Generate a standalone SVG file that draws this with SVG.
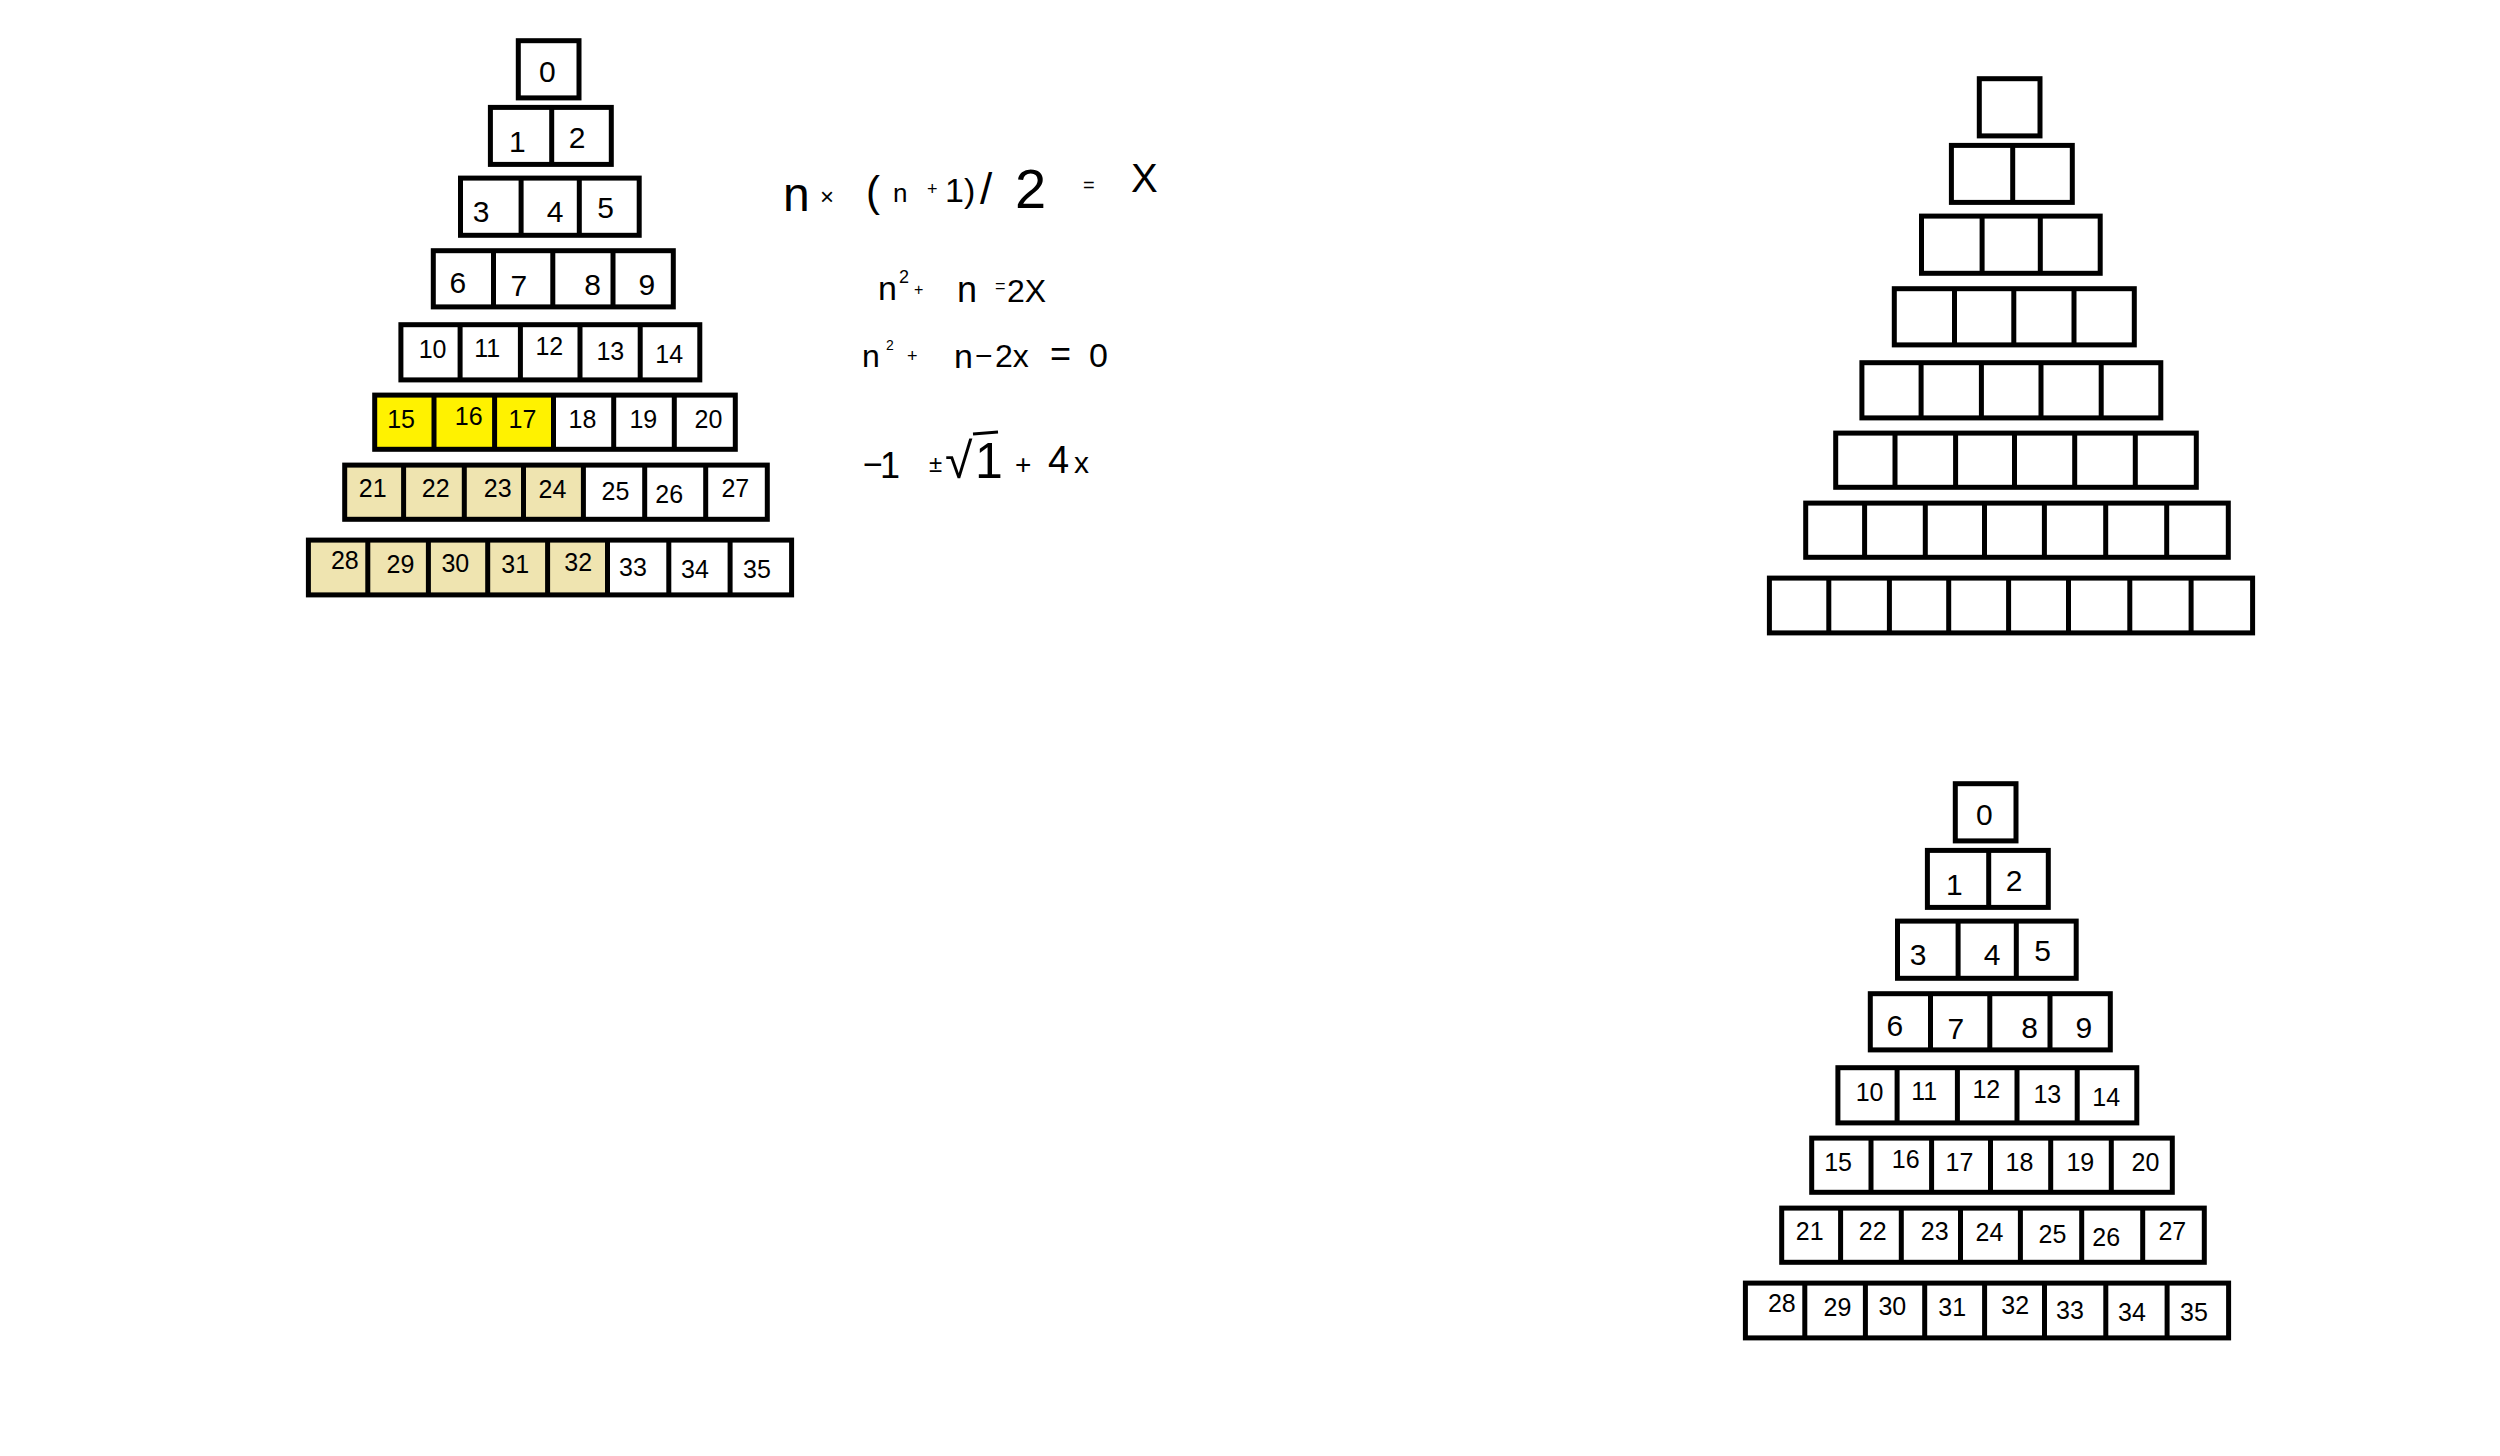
<svg xmlns="http://www.w3.org/2000/svg" xmlns:xlink="http://www.w3.org/1999/xlink" width="2500" height="1456" viewBox="0 0 2500 1456">
<style>
.b{fill:none;stroke:#000;stroke-width:5}
.l{stroke:#000;stroke-width:5}
text{font-family:"Liberation Sans",Arial,sans-serif;fill:#000}
.d1{font-size:30px;text-anchor:middle}
.d2{font-size:25px;text-anchor:middle}
.f{font-size:40px}
</style>
<defs>
<g id="grid">
<rect class="b" x="518.3" y="40.7" width="60.7" height="57.2"/>
<rect class="b" x="490.4" y="107.4" width="120.9" height="57"/>
<path class="l" d="M551.7 107.4V164.4"/>
<rect class="b" x="460.5" y="178.1" width="178.7" height="57.2"/>
<path class="l" d="M521.1 178.1V235.3M579.3 178.1V235.3"/>
<rect class="b" x="433.3" y="250.7" width="240" height="56.2"/>
<path class="l" d="M493.5 250.7V306.9M552.8 250.7V306.9M613 250.7V306.9"/>
<rect class="b" x="400.9" y="324.7" width="298.9" height="55.2"/>
<path class="l" d="M460.1 324.7V379.9M520.4 324.7V379.9M580 324.7V379.9M640.2 324.7V379.9"/>
<rect class="b" x="374.7" y="395.1" width="360.6" height="54.2"/>
<path class="l" d="M434 395.1V449.3M494.6 395.1V449.3M553.5 395.1V449.3M613.7 395.1V449.3M674.3 395.1V449.3"/>
<rect class="b" x="344.7" y="465.1" width="422.6" height="54.2"/>
<path class="l" d="M403.6 465.1V519.3M464.3 465.1V519.3M523.5 465.1V519.3M583.4 465.1V519.3M644.7 465.1V519.3M705.7 465.1V519.3"/>
<rect class="b" x="308.4" y="540.1" width="483.2" height="54.8"/>
<path class="l" d="M367.8 540.1V594.9M428.4 540.1V594.9M487.7 540.1V594.9M547.6 540.1V594.9M607.5 540.1V594.9M668.8 540.1V594.9M730.1 540.1V594.9"/>
</g>
<g id="nums">
<text class="d1" x="547.3" y="82">0</text>
<text class="d1" x="517.3" y="152">1</text>
<text class="d1" x="577.2" y="148">2</text>
<text class="d1" x="481.1" y="222">3</text>
<text class="d1" x="555" y="222">4</text>
<text class="d1" x="605.6" y="218">5</text>
<text class="d1" x="457.9" y="293">6</text>
<text class="d1" x="518.8" y="296">7</text>
<text class="d1" x="592.7" y="295">8</text>
<text class="d1" x="646.9" y="295">9</text>
<text class="d2" x="432.6" y="358">10</text>
<text class="d2" x="487.3" y="357">11</text>
<text class="d2" x="549.3" y="355">12</text>
<text class="d2" x="610.3" y="360">13</text>
<text class="d2" x="669.2" y="363">14</text>
<text class="d2" x="401.1" y="428">15</text>
<text class="d2" x="468.7" y="425">16</text>
<text class="d2" x="522.5" y="428">17</text>
<text class="d2" x="582.4" y="428">18</text>
<text class="d2" x="643.3" y="428">19</text>
<text class="d2" x="708.4" y="428">20</text>
<text class="d2" x="372.7" y="497">21</text>
<text class="d2" x="435.7" y="497">22</text>
<text class="d2" x="497.7" y="497">23</text>
<text class="d2" x="552.4" y="498">24</text>
<text class="d2" x="615.4" y="500">25</text>
<text class="d2" x="669.2" y="503">26</text>
<text class="d2" x="735.3" y="497">27</text>
<text class="d2" x="344.8" y="569">28</text>
<text class="d2" x="400.5" y="573">29</text>
<text class="d2" x="455.3" y="572">30</text>
<text class="d2" x="515.2" y="573">31</text>
<text class="d2" x="578.2" y="571">32</text>
<text class="d2" x="633" y="576">33</text>
<text class="d2" x="695" y="578">34</text>
<text class="d2" x="757" y="578">35</text>
</g>
</defs>
<rect width="2500" height="1456" fill="#fff"/>
<g id="pyramid-left">
<rect x="374.7" y="395.1" width="178.8" height="54.2" fill="#FFF200"/>
<rect x="344.7" y="465.1" width="238.7" height="54.2" fill="#EFE4B0"/>
<rect x="308.4" y="540.1" width="299.1" height="54.8" fill="#EFE4B0"/>
<use xlink:href="#grid"/>
<use xlink:href="#nums"/>
</g>
<g id="formulas">
<text id="formula-1" class="f"><tspan x="783" y="211" font-size="48">n</tspan><tspan x="820" y="205" font-size="24">×</tspan><tspan x="866" y="206" font-size="42">(</tspan><tspan x="893" y="202" font-size="26">n</tspan><tspan x="927" y="195" font-size="18">+</tspan><tspan x="945" y="202" font-size="34">1)</tspan><tspan x="980" y="204" font-size="44">/</tspan><tspan x="1015" y="208" font-size="56">2</tspan><tspan x="1083" y="192" font-size="20">=</tspan><tspan x="1131" y="192" font-size="40">X</tspan></text>
<text id="formula-2" class="f"><tspan x="878" y="300" font-size="34">n</tspan><tspan x="899" y="283" font-size="18">2</tspan><tspan x="914" y="295" font-size="16">+</tspan><tspan x="957" y="302" font-size="36">n</tspan><tspan x="995" y="292" font-size="18">=</tspan><tspan x="1007" y="302" font-size="32">2X</tspan></text>
<text id="formula-3" class="f"><tspan x="862" y="367" font-size="32">n</tspan><tspan x="886" y="350" font-size="14">2</tspan><tspan x="907" y="362" font-size="18">+</tspan><tspan x="954" y="368" font-size="34">n</tspan><tspan x="975" y="366" font-size="30">−</tspan><tspan x="995" y="367" font-size="32">2x</tspan><tspan x="1050" y="366" font-size="36">=</tspan><tspan x="1089" y="367" font-size="34">0</tspan></text>
<text id="formula-4" class="f"><tspan x="863" y="476" font-size="34">−</tspan><tspan x="880" y="478" font-size="36">1</tspan><tspan x="929" y="472" font-size="24">±</tspan><tspan x="945" y="478" font-size="50">√</tspan><tspan x="975" y="478" font-size="50">1</tspan><tspan x="1015" y="474" font-size="28">+</tspan><tspan x="1048" y="473" font-size="38">4</tspan><tspan x="1074" y="473" font-size="30">x</tspan></text>
<path d="M973 434L998 432" fill="none" stroke="#000" stroke-width="3"/>
</g>
<g id="pyramid-empty">
<use xlink:href="#grid" transform="translate(1461,38)"/>
</g>
<g id="pyramid-numbered">
<use xlink:href="#grid" transform="translate(1437,743)"/>
<use xlink:href="#nums" transform="translate(1437,743)"/>
</g>
</svg>
